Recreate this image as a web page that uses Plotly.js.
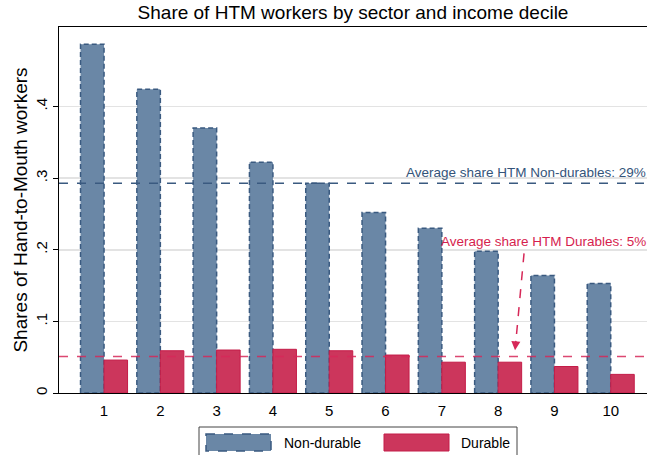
<!DOCTYPE html>
<html>
<head>
<meta charset="utf-8">
<script src="https://cdn.plot.ly/plotly-3.0.1.min.js"></script>
<style>html,body{margin:0;padding:0;background:#fff;}#chart{width:647px;height:455px;}</style>
</head>
<body>
<div id="chart"></div>
<script>
// ---- data ----
var deciles = [1, 2, 3, 4, 5, 6, 7, 8, 9, 10];
var decileLabels = ['1', '2', '3', '4', '5', '6', '7', '8', '9', '10'];
var nonDurable = [0.487, 0.424, 0.370, 0.322, 0.293, 0.252, 0.230, 0.198, 0.164, 0.153];
var durable = [0.046, 0.059, 0.060, 0.061, 0.059, 0.053, 0.043, 0.043, 0.037, 0.026];
var avgNonDurable = 0.293;
var avgDurable = 0.051;
var yTickVals = [0, 0.1, 0.2, 0.3, 0.4];
var yTickText = ['0', '.1', '.2', '.3', '.4'];
var seriesNames = ['Non-durable', 'Durable'];
var noteNonDurable = 'Average share HTM Non-durables: 29%';
var noteDurable = 'Average share HTM Durables: 5%';

var blueFill = 'rgb(106,135,166)';
var blueLine = 'rgb(58,90,128)';
var redFill = 'rgb(204,54,92)';
var redLine = 'rgb(196,28,72)';

var traces = [
  {type: 'bar', x: deciles, y: nonDurable, name: seriesNames[0],
   marker: {color: blueFill, line: {color: blueLine, width: 1.5}}},
  {type: 'bar', x: deciles, y: durable, name: seriesNames[1],
   marker: {color: redFill, line: {color: redLine, width: 1}}}
];

var font = 'Arial, "Liberation Sans", Helvetica, sans-serif';

function px2x(px){ return (px - 59) / 588; }
function py2y(py){ return (393 - py) / 366; }

var layout = {
  width: 647, height: 455,
  margin: {l: 59, r: 0, t: 27, b: 62},
  paper_bgcolor: '#fff', plot_bgcolor: '#fff',
  font: {family: font, color: '#000'},
  showlegend: false,
  barmode: 'group', bargap: 0.165, bargroupgap: 0,
  title: {text: 'Share of HTM workers by sector and income decile',
          font: {size: 19, color: '#000', family: font},
          x: 0.5, xref: 'paper', xanchor: 'center', y: 0.972, yanchor: 'middle'},
  xaxis: {range: [0.2, 10.644], tickvals: deciles, ticktext: decileLabels,
          ticks: '', showgrid: false, zeroline: false,
          showline: true, linecolor: '#000', linewidth: 1.2, mirror: true,
          ticklabelstandoff: 4,
          tickfont: {size: 15, color: '#000'}, fixedrange: true},
  yaxis: {range: [0, 0.511], tickvals: yTickVals, ticktext: yTickText,
          tickangle: -90, ticks: 'outside', ticklen: 5, tickwidth: 1, tickcolor: '#000',
          showgrid: true, gridcolor: '#e3e3e3', gridwidth: 1.5, zeroline: false,
          showline: true, linecolor: '#000', linewidth: 1.2,
          tickfont: {size: 15, color: '#000'},
          title: {text: 'Shares of Hand-to-Mouth workers', font: {size: 19, color: '#000'}, standoff: 0},
          fixedrange: true},
  shapes: [
    {type: 'line', xref: 'paper', yref: 'y', x0: 0, x1: 1, y0: avgNonDurable, y1: avgNonDurable,
     line: {color: blueLine, width: 1.5, dash: 'dash'}, layer: 'above'},
    {type: 'line', xref: 'paper', yref: 'y', x0: 0, x1: 1, y0: avgDurable, y1: avgDurable,
     line: {color: 'rgba(214,40,88,0.85)', width: 1.5, dash: 'dash'}, layer: 'above'},
    // dashed arrow shaft
    {type: 'line', xref: 'x', yref: 'y', x0: 8.46, y0: 0.195, x1: 8.31, y1: 0.068,
     line: {color: 'rgb(214,40,88)', width: 1.5, dash: 'dash'}, layer: 'above'},
    // legend box
    {type: 'rect', xref: 'paper', yref: 'paper', x0: px2x(199), x1: px2x(517), y0: py2y(427), y1: py2y(470),
     line: {color: '#444', width: 1}, fillcolor: 'rgba(0,0,0,0)'},
    {type: 'rect', xref: 'paper', yref: 'paper', x0: px2x(206), x1: px2x(271), y0: py2y(434), y1: py2y(451),
     line: {color: blueLine, width: 1.5, dash: 'dash'}, fillcolor: blueFill},
    {type: 'rect', xref: 'paper', yref: 'paper', x0: px2x(384), x1: px2x(449), y0: py2y(434), y1: py2y(451),
     line: {color: redLine, width: 1}, fillcolor: redFill}
  ],
  annotations: [
    {xref: 'paper', yref: 'y', x: 1, y: avgNonDurable, xanchor: 'right', yanchor: 'bottom', yshift: 1, xshift: 1,
     text: noteNonDurable, showarrow: false, font: {size: 13.5, color: 'rgb(52,84,122)'}},
    {xref: 'paper', yref: 'y', x: 1, y: 0.212, xanchor: 'right', yanchor: 'middle', xshift: 1,
     text: noteDurable, showarrow: false, font: {size: 13.5, color: 'rgb(214,30,78)'}},
    {xref: 'x', yref: 'y', x: 8.30, y: 0.0596, ax: 1, ay: -11, axref: 'pixel', ayref: 'pixel',
     text: '', showarrow: true, arrowhead: 2, arrowsize: 1.2, arrowwidth: 1.5, arrowcolor: 'rgb(214,40,88)'},
    {xref: 'paper', yref: 'paper', x: px2x(282), y: py2y(442.5), xanchor: 'left', yanchor: 'middle',
     text: seriesNames[0], showarrow: false, font: {size: 14, color: '#000'}},
    {xref: 'paper', yref: 'paper', x: px2x(459), y: py2y(442.5), xanchor: 'left', yanchor: 'middle',
     text: seriesNames[1], showarrow: false, font: {size: 14, color: '#000'}}
  ]
};

Plotly.newPlot('chart', traces, layout, {displayModeBar: false, staticPlot: true}).then(function(gd){
  var tr = gd.querySelectorAll('.barlayer .trace');
  if (tr.length) {
    tr[0].querySelectorAll('path').forEach(function(p){ p.style.strokeDasharray = '5px,3px'; });
  }
});
</script>
</body>
</html>
